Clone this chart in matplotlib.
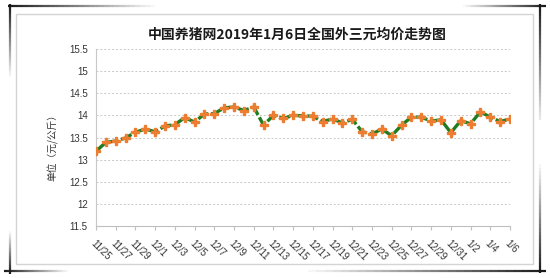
import matplotlib
matplotlib.use("Agg")
import matplotlib.pyplot as plt
import numpy as np
from matplotlib.collections import LineCollection
from matplotlib.patches import Rectangle

plt.rcParams["font.family"] = ["Noto Sans CJK SC", "DejaVu Sans"]

TITLE = "中国养猪网2019年1月6日全国外三元均价走势图"
Y_LABEL = "单位（元/公斤）"

dates = [
    "11/25", "11/26", "11/27", "11/28", "11/29", "11/30",
    "12/1", "12/2", "12/3", "12/4", "12/5", "12/6", "12/7", "12/8",
    "12/9", "12/10", "12/11", "12/12", "12/13", "12/14", "12/15", "12/16",
    "12/17", "12/18", "12/19", "12/20", "12/21", "12/22", "12/23", "12/24",
    "12/25", "12/26", "12/27", "12/28", "12/29", "12/30", "12/31",
    "1/1", "1/2", "1/3", "1/4", "1/5", "1/6",
]
prices = [
    13.19, 13.39, 13.42, 13.49, 13.62, 13.69, 13.63, 13.76, 13.79, 13.95,
    13.85, 14.03, 14.04, 14.17, 14.19, 14.11, 14.19, 13.78, 14.00, 13.93,
    14.00, 13.99, 13.98, 13.86, 13.92, 13.83, 13.91, 13.63, 13.58, 13.69,
    13.54, 13.78, 13.96, 13.96, 13.87, 13.90, 13.61, 13.88, 13.81, 14.08,
    13.96, 13.86, 13.92,
]
y_ticks = [11.5, 12, 12.5, 13, 13.5, 14, 14.5, 15, 15.5]
y_tick_labels = ["11.5", "12", "12.5", "13", "13.5", "14", "14.5", "15", "15.5"]

W, H = 550, 278


def _fade_line(fig, x0, y0, x1, y1, a0=1.0, a1=0.0, lw=1.6, n=30):
    # pixel coords (top-left origin) -> figure fraction, alpha fading along the line
    xs = np.linspace(x0, x1, n + 1) / W
    ys = 1 - np.linspace(y0, y1, n + 1) / H
    segs = [[(xs[i], ys[i]), (xs[i + 1], ys[i + 1])] for i in range(n)]
    alphas = np.linspace(a0, a1, n)
    colors = [(0.1, 0.1, 0.1, a) for a in alphas]
    lc = LineCollection(segs, colors=colors, linewidths=lw, transform=fig.transFigure)
    fig.add_artist(lc)


fig = plt.figure(figsize=(5.5, 2.78), dpi=100)
fig.patch.set_facecolor("white")

# inner panel, kept behind the axes
fig.add_artist(Rectangle((16 / W, 1 - 264 / H), (533 - 16) / W, (264 - 14) / H,
                         transform=fig.transFigure, facecolor="none",
                         edgecolor="#d4d4d4", linewidth=1.0, zorder=-10))

# decorative frame corners
_fade_line(fig, 8, 6, 160, 6)
_fade_line(fig, 10, 4, 10, 80)
_fade_line(fig, 546, 6, 460, 6)
_fade_line(fig, 540, 4, 540, 120, 1.0, 0.1)
_fade_line(fig, 540, 273, 540, 160, 1.0, 0.0)
_fade_line(fig, 546, 271, 300, 271)
_fade_line(fig, 10, 274, 10, 230)
_fade_line(fig, 4, 271, 70, 271)

ax = fig.add_axes([96 / W, 1 - 226 / H, (510 - 96) / W, (226 - 49) / H])
ax.patch.set_alpha(0)
x = np.arange(len(dates))

ax.plot(x, prices, color="#1f7d1f", linewidth=2.4, linestyle=(0, (3.5, 0.8)), zorder=3)
ax.plot(x, prices, linestyle="none", marker="P", markersize=5.2,
        markerfacecolor="#ed7d31", markeredgecolor="#ed7d31", zorder=4)

ax.set_xlim(0, len(dates) - 1)
ax.set_ylim(11.5, 15.5)
ax.set_yticks(y_ticks)
ax.set_yticklabels(y_tick_labels, fontsize=7, color="#333333",
                   family=["Liberation Sans", "DejaVu Sans"])
ax.tick_params(axis="y", length=0, pad=6)

tick_idx = x[::2]
ax.set_xticks(tick_idx)
ax.set_xticklabels([dates[i] for i in tick_idx], rotation=-45, ha="left", va="top",
                   rotation_mode="anchor", fontsize=7, color="#333333",
                   family=["Liberation Sans", "DejaVu Sans"])
ax.tick_params(axis="x", length=3, color="#bfbfbf", pad=6)

ax.grid(True, axis="y", color="#c8c8c8", linestyle=(0, (2, 2)), linewidth=0.7)
ax.set_axisbelow(True)
for side in ("top", "right"):
    ax.spines[side].set_visible(False)
ax.spines["left"].set_color("#c8c8c8")
ax.spines["bottom"].set_color("#bfbfbf")

ax.set_ylabel(Y_LABEL, fontsize=7, color="#333333")
ax.yaxis.set_label_coords(-0.09, 0.46)

fig.text(297 / W, 1 - 35 / H, TITLE, ha="center", va="center",
         fontsize=10, fontweight="bold", color="#1a1a1a")

fig.savefig("out.png", dpi=100)
